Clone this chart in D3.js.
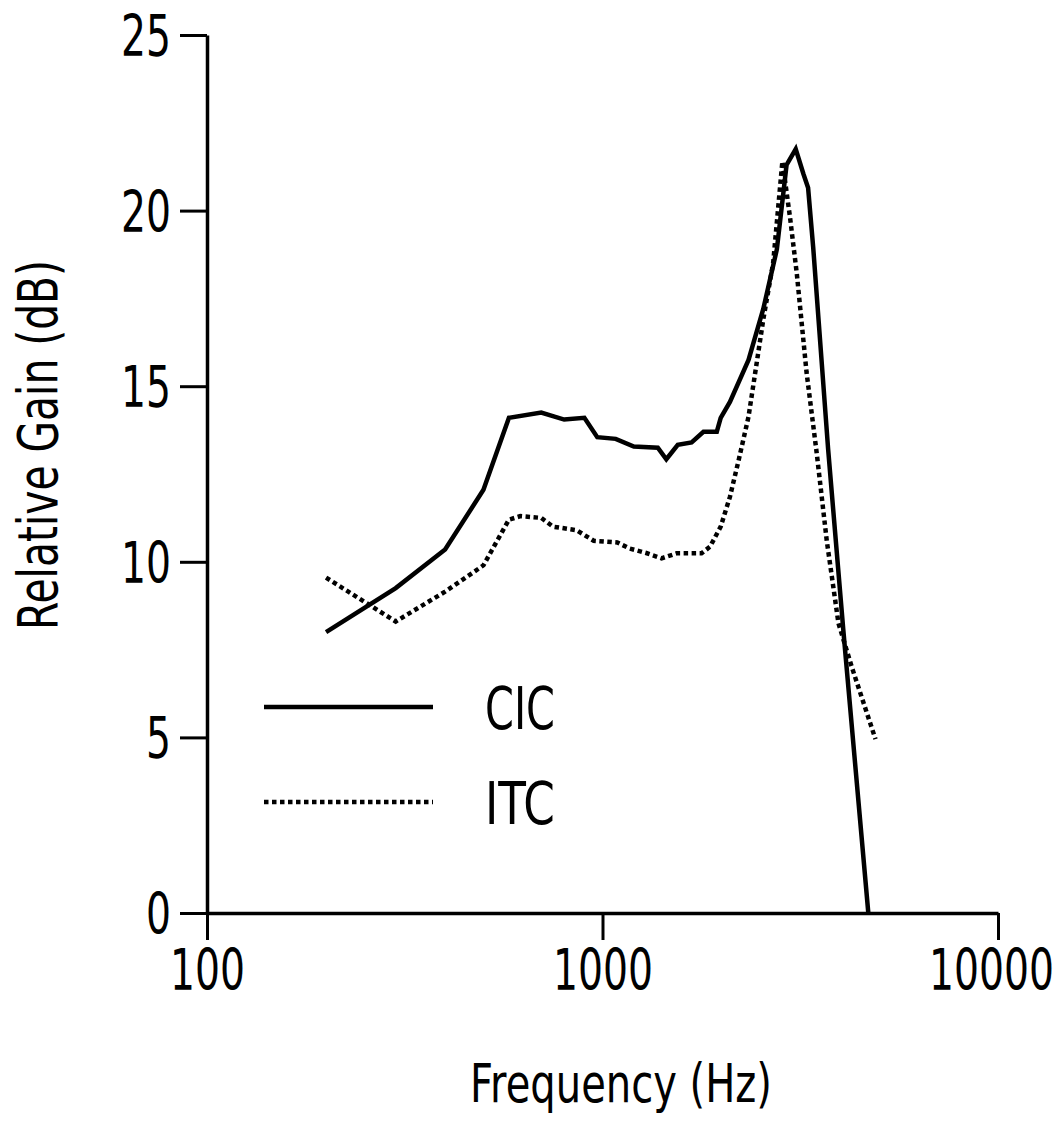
<!DOCTYPE html>
<html>
<head>
<meta charset="utf-8">
<script src="https://cdn.jsdelivr.net/npm/d3@7"></script>
<style>
  html, body { margin: 0; padding: 0; background: #fff; }
  svg text { font-family: "DejaVu Sans", Verdana, sans-serif; fill: #000; }
</style>
</head>
<body>
<svg id="chart" width="1061" height="1127"></svg>
<script>
// ---- Data ----
const seriesNames = ["CIC", "ITC"];

const cicFreq = [200, 300, 400, 500, 580, 700, 800, 900, 970, 1080, 1200, 1380, 1450, 1550, 1680, 1800, 1945, 1990, 2100, 2340, 2550, 2760, 2920, 3080, 3220, 3310, 3410, 3720, 4060, 4700];
const cicGain = [8.0, 9.25, 10.35, 12.05, 14.1, 14.25, 14.05, 14.1, 13.55, 13.5, 13.28, 13.25, 12.92, 13.33, 13.4, 13.7, 13.7, 14.1, 14.55, 15.75, 17.2, 18.9, 21.3, 21.75, 21.05, 20.65, 18.95, 13.2, 8.1, 0];

const itcFreq = [200, 300, 400, 500, 580, 620, 700, 750, 860, 950, 1090, 1170, 1290, 1410, 1540, 1780, 1870, 1990, 2100, 2210, 2340, 2550, 2700, 2850, 2980, 3100, 3280, 3480, 3690, 3950, 4270, 4900];
const itcGain = [9.55, 8.3, 9.15, 9.9, 11.2, 11.3, 11.25, 11.0, 10.9, 10.6, 10.55, 10.38, 10.25, 10.1, 10.24, 10.24, 10.43, 11.0, 11.85, 12.9, 14.13, 16.9, 18.5, 21.4, 19.8, 18.2, 15.4, 13.1, 10.6, 8.25, 7.0, 4.95];

const xTicks = [100, 1000, 10000];
const yTicks = [0, 5, 10, 15, 20, 25];
const xTitle = "Frequency (Hz)";
const yTitle = "Relative Gain (dB)";

// ---- Layout ----
const svg = d3.select("#chart");
const x = d3.scaleLog().domain([100, 10000]).range([207, 998]);
const y = d3.scaleLinear().domain([0, 25]).range([913, 35]);
const SX = 0.69; // horizontal condensation of text

// X axis
const gx = svg.append("g").attr("transform", `translate(0,${y(0)})`)
  .call(d3.axisBottom(x).tickValues(xTicks).tickFormat(d3.format("d")).tickSize(27).tickSizeOuter(0));
gx.select(".domain").attr("stroke", "#000").attr("stroke-width", 3.5);
gx.selectAll(".tick line").attr("stroke", "#000").attr("stroke-width", 3);
gx.selectAll(".tick text")
  .attr("font-size", 57).attr("y", 77).attr("dy", 0)
  .attr("x", (d, i, n) => (i === n.length - 1 ? -7 : 0) / SX)
  .attr("transform", `scale(${SX},1)`);

// Y axis
const gy = svg.append("g").attr("transform", `translate(${x(100)},0)`)
  .call(d3.axisLeft(y).tickValues(yTicks).tickSize(27).tickSizeOuter(0));
gy.select(".domain").attr("stroke", "#000").attr("stroke-width", 3.5);
gy.selectAll(".tick line").attr("stroke", "#000").attr("stroke-width", 3);
gy.selectAll(".tick text")
  .attr("font-size", 57).attr("x", -36 / SX).attr("dy", "0.36em")
  .attr("transform", `scale(${SX},1)`);
svg.selectAll(".tick text").attr("fill", "#000");

// Axis titles
svg.append("text").attr("x", 621).attr("y", 1102)
  .attr("text-anchor", "middle").attr("font-size", 53)
  .attr("textLength", 302).attr("lengthAdjust", "spacingAndGlyphs")
  .text(xTitle);
svg.append("text")
  .attr("transform", "translate(57,445) rotate(-90)")
  .attr("text-anchor", "middle").attr("font-size", 55)
  .attr("textLength", 370).attr("lengthAdjust", "spacingAndGlyphs")
  .text(yTitle);

// Lines
const line = d3.line().x(d => x(d[0])).y(d => y(d[1]));
const cic = d3.zip(cicFreq, cicGain);
const itc = d3.zip(itcFreq, itcGain);

svg.append("path").datum(itc).attr("d", line)
  .attr("fill", "none").attr("stroke", "#000").attr("stroke-width", 4.5)
  .attr("stroke-dasharray", "4.5,3.5");
svg.append("path").datum(cic).attr("d", line)
  .attr("fill", "none").attr("stroke", "#000").attr("stroke-width", 4.5)
  .attr("stroke-linejoin", "miter");

// Legend
const legend = [
  { name: seriesNames[0], dash: null, yPos: 707 },
  { name: seriesNames[1], dash: "4.5,3.5", yPos: 802 }
];
legend.forEach(l => {
  svg.append("line").attr("x1", 264).attr("x2", 433).attr("y1", l.yPos).attr("y2", l.yPos)
    .attr("stroke", "#000").attr("stroke-width", 4.5)
    .attr("stroke-dasharray", l.dash);
  svg.append("text").attr("x", 485).attr("y", l.yPos + 22)
    .attr("font-size", 58).attr("textLength", 70).attr("lengthAdjust", "spacingAndGlyphs")
    .text(l.name);
});
</script>
</body>
</html>
